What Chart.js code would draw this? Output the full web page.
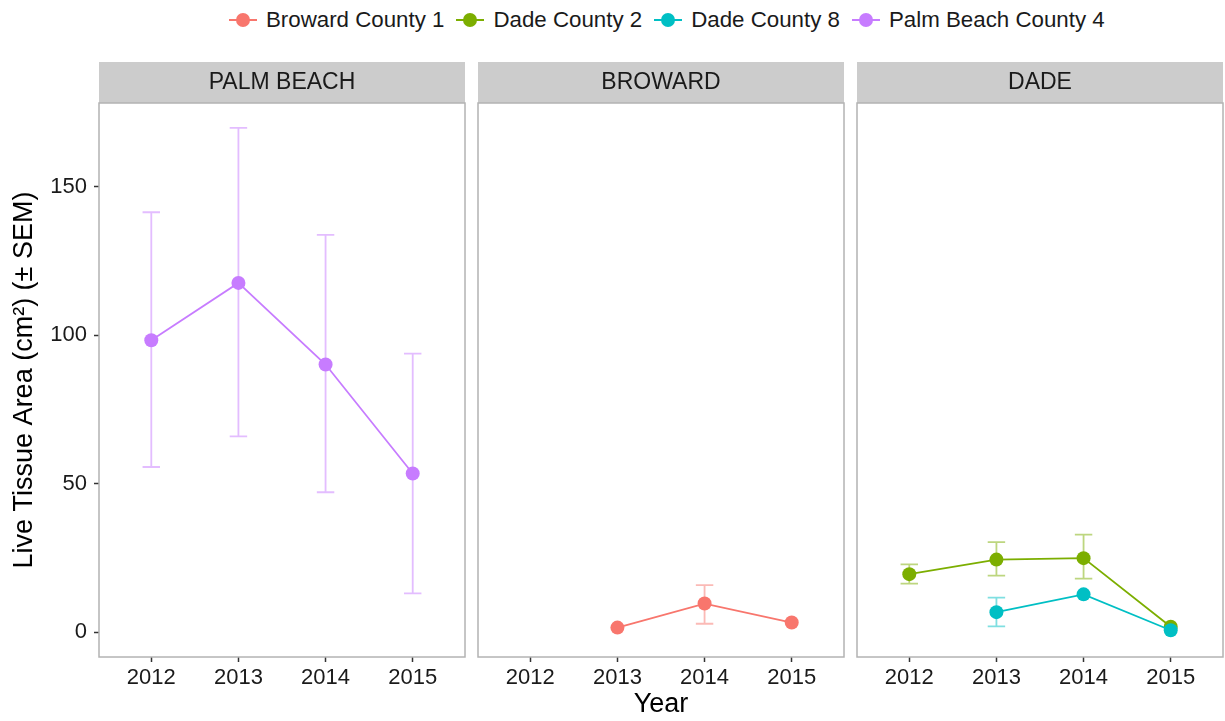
<!DOCTYPE html>
<html>
<head>
<meta charset="utf-8">
<script src="https://cdn.jsdelivr.net/npm/chart.js@4/dist/chart.umd.min.js"></script>
<style>
  body { margin: 0; width: 1225px; height: 721px; background: #fff; position: relative; overflow: hidden;
         font-family: "Liberation Sans", Arial, sans-serif; }
  canvas { position: absolute; top: 62px; }
  #legend { position: absolute; left: 229px; top: 6px; height: 28px; display: flex; align-items: center;
            font-size: 22.3px; color: #1a1a1a; white-space: nowrap; }
  .item { display: flex; align-items: center; margin-right: 12px; }
  .key { position: relative; width: 28px; height: 14px; margin-right: 9px; }
  .key .ln { position: absolute; left: 0; right: 0; top: 6px; height: 2px; }
  .key .dot { position: absolute; left: 7px; top: 0; width: 14px; height: 14px; border-radius: 50%; }
</style>
</head>
<body>
<div id="legend"></div>
<canvas id="c1" width="467" height="659" style="left:0px"></canvas>
<canvas id="c2" width="370" height="659" style="left:476px"></canvas>
<canvas id="c3" width="370" height="659" style="left:855px"></canvas>
<script>
const years = [2012, 2013, 2014, 2015];
const yTicks = [0, 50, 100, 150];
const facets = ["PALM BEACH", "BROWARD", "DADE"];
const seriesNames = ["Broward County 1", "Dade County 2", "Dade County 8", "Palm Beach County 4"];
const seriesColors = ["#F8766D", "#7CAE00", "#00BFC4", "#C77CFF"];
const errColors = ["rgba(248,118,109,0.5)", "rgba(124,174,0,0.5)", "rgba(0,191,196,0.5)", "rgba(199,124,255,0.5)"];

// Palm Beach County 4
const palmMean = [98.3, 117.6, 90.1, 53.4];
const palmLow = [55.6, 65.9, 47.1, 13.0];
const palmHigh = [141.4, 169.8, 133.8, 93.8];
// Broward County 1
const browardMean = [null, 1.5, 9.6, 3.2];
const browardLow = [null, null, 2.8, null];
const browardHigh = [null, null, 15.8, null];
// Dade County 2
const dade2Mean = [19.5, 24.4, 24.9, 1.8];
const dade2Low = [16.3, 19.0, 18.0, null];
const dade2High = [22.8, 30.3, 32.8, null];
// Dade County 8
const dade8Mean = [null, 6.7, 12.7, 0.6];
const dade8Low = [null, 1.9, null, null];
const dade8High = [null, 11.6, null, null];

const fuente = '"Liberation Sans", Arial, sans-serif';

// leyenda arriba
const leg = document.getElementById("legend");
seriesNames.forEach((n, i) => {
  leg.innerHTML += `<div class="item"><div class="key"><div class="ln" style="background:${seriesColors[i]}"></div>` +
    `<div class="dot" style="background:${seriesColors[i]}"></div></div><span>${n}</span></div>`;
});

function serie(idx, mean, low, high) {
  return {
    label: seriesNames[idx],
    data: years.map((x, i) => ({ x: x, y: mean[i] })).filter(p => p.y !== null),
    errLow: low, errHigh: high, errColor: errColors[idx],
    borderColor: seriesColors[idx], backgroundColor: seriesColors[idx],
    borderWidth: 1.8, pointRadius: 7, pointBorderWidth: 0, pointHoverRadius: 7,
    tension: 0, spanGaps: true
  };
}

// barras de error + strip + borde del panel
const panelPlugin = {
  id: "panel",
  beforeDatasetsDraw(chart) {
    const ctx = chart.ctx, xs = chart.scales.x, ys = chart.scales.y;
    const cap = xs.getPixelForValue(2012.1) - xs.getPixelForValue(2012);
    ctx.save();
    ctx.lineWidth = 1.8;
    chart.data.datasets.forEach(ds => {
      ctx.strokeStyle = ds.errColor;
      years.forEach((yr, i) => {
        if (ds.errLow[i] === null) return;
        const px = xs.getPixelForValue(yr);
        const y1 = ys.getPixelForValue(ds.errLow[i]);
        const y2 = ys.getPixelForValue(ds.errHigh[i]);
        ctx.beginPath();
        ctx.moveTo(px, y1); ctx.lineTo(px, y2);
        ctx.moveTo(px - cap, y1); ctx.lineTo(px + cap, y1);
        ctx.moveTo(px - cap, y2); ctx.lineTo(px + cap, y2);
        ctx.stroke();
      });
    });
    ctx.restore();
  },
  afterDraw(chart, args, opts) {
    const ctx = chart.ctx, a = chart.chartArea;
    ctx.save();
    ctx.fillStyle = "#CCCCCC";
    ctx.fillRect(a.left, a.top - 41, a.right - a.left, 41);
    ctx.fillStyle = "#1a1a1a";
    ctx.font = "23px " + fuente;
    ctx.textAlign = "center";
    ctx.textBaseline = "middle";
    ctx.fillText(opts.title, (a.left + a.right) / 2, a.top - 20);
    ctx.strokeStyle = "#B3B3B3";
    ctx.lineWidth = 1.5;
    ctx.strokeRect(a.left, a.top, a.right - a.left, a.bottom - a.top);
    ctx.restore();
  }
};

function hacerPanel(id, k, datasets, conEjeY, conTitulo) {
  new Chart(document.getElementById(id), {
    type: "line",
    data: { datasets: datasets },
    plugins: [panelPlugin],
    options: {
      responsive: false,
      animation: false,
      layout: { autoPadding: false, padding: { top: 41, left: conEjeY ? 0 : 2, right: 2, bottom: 0 } },
      plugins: { legend: { display: false }, tooltip: { enabled: false }, panel: { title: facets[k] } },
      scales: {
        x: {
          type: "linear", min: 2011.4, max: 2015.6,
          afterBuildTicks: s => { s.ticks = years.map(v => ({ value: v })); },
          afterFit: s => { s.height = 64; s.paddingLeft = 0; s.paddingRight = 0; },
          border: { display: false },
          grid: { drawOnChartArea: false, drawTicks: true, tickLength: 5, tickColor: "#333", tickWidth: 1.5 },
          ticks: { color: "#1a1a1a", font: { family: fuente, size: 22 }, padding: 3, maxRotation: 0,
                   callback: v => String(v) },
          title: { display: conTitulo, text: "Year", color: "#000", font: { family: fuente, size: 27 },
                   padding: { top: 0, bottom: 0 } }
        },
        y: {
          display: conEjeY,
          min: -8.4, max: 178.2,
          afterBuildTicks: s => { s.ticks = yTicks.map(v => ({ value: v })); },
          afterFit: s => { s.width = conEjeY ? 99 : 0; },
          border: { display: false },
          grid: { drawOnChartArea: false, drawTicks: true, tickLength: 5, tickColor: "#333", tickWidth: 1.5 },
          ticks: { color: "#1a1a1a", font: { family: fuente, size: 22 }, padding: 7 },
          title: { display: conEjeY, text: "Live Tissue Area (cm²) (± SEM)", color: "#000",
                   font: { family: fuente, size: 27 }, padding: { top: 8, bottom: 0 } }
        }
      }
    }
  });
}

hacerPanel("c1", 0, [serie(3, palmMean, palmLow, palmHigh)], true, false);
hacerPanel("c2", 1, [serie(0, browardMean, browardLow, browardHigh)], false, true);
hacerPanel("c3", 2, [serie(2, dade8Mean, dade8Low, dade8High), serie(1, dade2Mean, dade2Low, dade2High)], false, false);
</script>
</body>
</html>
